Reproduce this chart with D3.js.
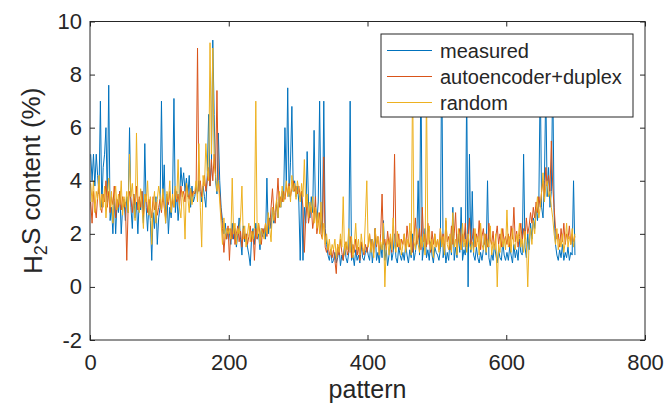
<!DOCTYPE html>
<html>
<head>
<meta charset="utf-8">
<script src="https://cdn.jsdelivr.net/npm/d3@7"></script>
<style>
  html, body { margin: 0; padding: 0; background: #fff; }
  svg { display: block; font-family: "Liberation Sans", Arial, sans-serif; }
</style>
</head>
<body>
<svg id="chart" width="668" height="405"></svg>
<script>
// ---- data (one value every 2 patterns) ----
const patterns = d3.range(1, 700, 2);
const measured = [
  5.0,4.0,5.0,3.8,5.0,4.2,3.5,7.0,3.0,4.5,5.0,6.0,3.2,7.6,2.5,3.0,2.0,3.4,2.0,3.2,2.8,3.6,2.0,3.0,3.3,
  2.5,3.4,2.8,6.0,3.0,2.2,3.5,2.6,3.2,2.0,3.3,2.9,3.6,2.4,5.4,3.0,2.1,3.2,2.5,1.0,2.8,2.2,3.4,1.6,2.6,
  3.0,7.0,3.2,4.6,2.4,3.5,2.0,3.0,2.6,3.4,7.1,2.8,3.6,2.5,3.2,4.5,3.8,4.3,3.6,4.1,3.4,4.2,3.0,3.8,3.2,
  3.4,3.8,3.5,4.0,3.6,3.2,3.8,3.4,3.0,4.2,6.5,3.8,4.5,9.3,6.5,4.0,3.5,5.8,4.0,3.0,2.5,2.0,2.4,1.8,2.2,
  2.0,1.6,2.4,1.8,2.2,1.5,2.0,2.6,1.8,1.2,2.3,1.7,2.0,1.5,1.2,0.8,1.9,2.2,1.6,2.4,1.8,2.0,1.4,2.2,1.9,
  2.2,1.8,4.1,2.0,2.6,2.2,3.0,2.4,2.8,3.2,2.6,3.4,3.0,3.6,3.2,6.0,3.8,7.5,3.4,4.7,6.8,3.6,4.0,3.4,3.8,
  3.2,1.0,3.6,1.0,3.0,2.4,5.1,3.2,2.6,3.4,2.8,5.9,3.0,2.4,3.2,7.0,2.6,2.0,7.0,2.2,1.6,1.2,1.0,1.4,0.9,
  1.0,1.3,0.9,1.1,1.5,0.8,1.2,1.0,1.6,1.1,0.9,1.3,7.0,1.0,1.2,0.8,1.4,1.0,1.2,0.9,1.6,1.1,1.0,1.3,1.5,
  1.2,1.0,1.8,0.9,1.4,2.2,1.0,1.3,0.9,1.6,1.1,2.5,1.0,1.4,0.8,1.2,1.7,1.0,1.3,2.0,1.1,0.9,1.5,1.2,1.0,
  1.3,1.0,1.6,1.2,0.9,1.4,1.1,2.0,1.0,1.3,1.8,4.0,1.2,8.5,1.0,1.5,2.2,1.1,1.4,1.0,1.7,1.2,0.9,1.5,1.3,
  1.2,1.0,1.4,9.0,1.1,1.6,0.9,1.3,1.0,1.8,1.2,3.0,1.0,1.5,1.1,2.0,1.3,3.0,1.0,1.4,1.2,7.5,0.0,5.0,1.3,
  3.6,1.2,1.0,1.5,1.1,0.9,1.3,1.0,1.4,2.0,1.2,4.0,1.1,0.8,1.3,1.0,1.6,1.2,0.9,1.4,1.1,1.0,1.7,1.2,1.0,
  1.3,1.0,1.5,1.2,0.9,1.6,1.1,1.4,1.0,1.8,1.3,1.2,5.0,1.5,1.1,2.0,1.4,2.4,1.8,2.6,2.2,3.0,2.5,3.2,8.0,
  3.0,2.6,4.0,7.5,3.4,4.5,3.0,3.6,8.0,2.8,1.6,1.2,1.0,1.4,1.1,1.6,1.0,1.3,1.1,1.5,1.0,1.3,1.2,4.0,1.2
];
const autoencoderDuplex = [
  3.2,2.4,3.6,3.0,2.6,3.4,3.8,3.0,2.8,3.5,3.2,4.0,3.0,3.6,2.8,3.4,3.1,3.8,2.6,3.3,3.0,3.6,2.9,3.4,3.0,
  3.2,1.0,3.0,3.6,3.3,2.8,3.5,3.1,3.8,2.9,3.4,3.0,3.6,2.7,3.2,3.5,2.8,3.3,3.0,2.6,3.4,2.9,3.2,2.7,3.0,
  3.3,2.8,3.5,3.0,2.6,3.4,3.1,3.6,2.9,3.3,3.0,3.7,3.2,3.5,3.0,3.8,3.4,3.6,3.2,3.9,3.5,3.3,3.7,3.4,3.6,
  3.5,3.8,9.0,3.6,4.0,3.4,3.8,4.2,3.6,4.0,4.5,3.8,4.8,4.0,5.0,4.2,7.4,4.0,3.5,2.8,2.2,1.3,2.0,1.8,2.3,
  1.0,2.2,1.8,2.4,1.6,2.0,2.3,1.7,2.1,1.5,2.2,1.8,2.0,1.6,1.9,2.3,1.7,2.1,1.0,2.2,1.8,2.4,2.0,1.6,2.2,
  2.0,2.4,1.9,2.6,2.2,3.0,3.7,2.8,2.4,3.2,4.1,3.0,3.4,3.2,3.6,3.3,3.8,3.5,3.9,3.4,3.7,4.0,3.6,3.8,3.5,
  3.8,3.4,3.6,3.0,1.3,2.6,3.2,2.4,2.8,3.0,2.2,2.6,3.4,2.0,2.4,2.8,2.0,1.8,4.9,1.5,1.3,1.6,1.2,1.4,1.1,
  1.4,1.0,0.5,1.6,1.2,1.8,1.3,1.0,1.5,1.7,1.2,1.4,1.9,1.1,1.6,1.3,1.8,1.2,1.5,1.0,1.7,1.4,1.2,1.6,1.3,
  1.6,2.0,1.4,1.8,1.3,2.2,1.5,1.9,1.2,2.0,3.5,1.6,1.8,1.4,2.1,1.6,1.9,1.3,2.2,5.0,1.7,1.5,2.0,1.4,1.8,
  1.6,2.0,1.4,2.3,1.7,1.5,2.1,1.3,1.9,2.6,1.6,1.8,2.2,1.4,3.0,1.7,2.0,1.5,2.4,1.8,1.3,2.1,1.6,2.0,1.5,
  1.8,1.4,2.2,1.6,2.0,1.3,2.5,1.7,1.9,1.4,2.3,1.6,2.0,2.8,1.5,1.8,2.2,1.4,2.0,1.7,2.4,1.5,1.9,2.6,1.6,
  1.8,2.2,1.5,2.0,1.7,2.5,1.4,1.9,2.2,1.6,2.0,1.5,2.4,1.8,1.6,2.1,1.4,1.9,2.3,1.6,2.0,1.5,2.2,1.7,1.9,
  1.6,2.0,1.5,2.3,1.8,3.0,1.7,2.1,1.5,1.9,2.4,1.7,2.2,1.8,2.6,2.0,2.3,2.8,2.4,3.0,2.6,3.2,2.8,3.4,3.0,
  3.6,4.0,3.4,4.5,3.8,4.2,3.6,5.5,3.8,3.0,2.2,1.8,2.0,1.5,2.2,1.7,2.4,1.6,2.0,1.8,2.3,1.6,2.0,1.7,1.9
];
const random = [
  3.9,3.2,4.0,2.8,3.6,3.3,4.2,2.9,3.5,3.0,3.8,2.6,3.4,4.1,3.0,3.6,2.4,3.3,3.8,2.9,3.5,3.1,4.0,2.7,3.4,
  3.0,3.6,2.8,5.0,3.4,3.9,3.1,2.5,5.8,3.3,2.8,3.7,3.0,2.2,3.5,3.2,4.0,2.7,3.4,1.6,3.1,3.6,2.4,3.3,3.8,
  3.4,2.9,3.7,3.1,2.4,3.6,3.2,4.0,2.8,3.5,3.0,3.8,3.3,4.8,3.0,2.6,3.6,3.2,1.8,3.9,3.4,2.8,3.7,3.1,3.5,
  3.6,4.0,3.2,5.4,3.0,1.5,4.2,3.8,5.4,4.4,4.0,9.2,5.0,9.0,4.6,4.2,3.6,4.0,3.2,2.4,1.6,2.6,1.8,2.2,2.0,
  2.2,1.8,4.1,2.0,2.4,1.6,2.2,2.0,2.6,3.8,1.8,2.3,1.5,2.0,2.4,1.7,2.1,1.8,2.2,7.0,1.9,2.4,1.6,2.2,2.0,
  1.8,2.4,2.0,2.8,2.2,1.7,3.0,2.5,2.9,3.3,2.6,3.6,3.0,3.8,3.2,3.5,4.0,3.4,3.8,3.2,4.2,3.6,3.9,3.3,4.0,
  3.6,3.2,3.9,3.4,4.8,3.0,3.5,2.6,3.2,2.8,3.4,2.4,3.0,2.2,2.8,2.0,3.2,1.8,2.4,1.6,2.0,1.4,1.8,1.2,1.6,
  1.4,1.8,1.1,1.6,1.3,2.0,1.5,3.4,1.2,1.7,1.4,2.2,1.3,1.9,1.1,1.6,2.4,1.4,1.8,1.2,2.0,1.5,1.3,2.6,4.0,
  1.5,2.0,1.3,1.8,1.1,2.2,1.6,1.9,1.2,1.7,1.4,2.4,0.0,1.5,1.8,1.2,2.0,1.4,2.6,1.6,1.3,2.1,1.5,1.8,1.2,
  1.6,2.0,1.3,1.8,1.5,2.4,1.2,8.0,1.7,1.4,2.2,1.6,1.3,1.9,1.5,2.0,1.2,7.5,1.6,2.3,1.4,1.8,1.1,2.0,1.5,
  1.8,1.3,2.2,1.5,1.9,1.2,2.6,1.6,1.4,2.0,1.3,2.8,1.5,1.8,1.2,2.2,1.6,1.4,2.4,1.5,1.8,1.3,2.0,1.6,1.4,
  1.7,1.3,2.2,1.5,1.9,1.2,2.4,1.6,1.4,2.0,1.3,1.8,1.5,2.3,1.2,1.7,1.4,2.0,0.0,1.6,1.3,2.2,1.5,1.8,1.4,
  2.9,1.5,1.9,1.3,2.2,1.6,1.4,2.0,1.7,2.4,1.5,1.8,1.3,2.1,1.6,0.0,1.8,2.2,1.6,2.5,2.0,2.8,3.4,2.6,3.0,
  3.6,4.3,3.2,3.8,4.0,3.4,3.6,3.0,2.6,2.0,1.6,2.2,1.4,1.8,1.5,2.0,1.3,1.7,2.4,1.5,1.9,1.6,2.2,1.5,2.0
];
const seriesNames = ["measured", "autoencoder+duplex", "random"];
const seriesColors = ["#0072BD", "#D95319", "#EDB120"];
const xTicks = [0, 200, 400, 600, 800];
const yTicks = [-2, 0, 2, 4, 6, 8, 10];

// ---- chart ----
const svg = d3.select("#chart");
const mLeft = 90, mRight = 645, mTop = 21.5, mBottom = 340;
const x = d3.scaleLinear().domain([0, 800]).range([mLeft, mRight]);
const y = d3.scaleLinear().domain([-2, 10]).range([mBottom, mTop]);
const axisColor = "#262626";
const fmt = d => String(d);

svg.append("rect").attr("x", 0).attr("y", 0).attr("width", 668).attr("height", 405).attr("fill", "#fff");

svg.append("clipPath").attr("id", "clip")
  .append("rect").attr("x", mLeft).attr("y", mTop).attr("width", mRight - mLeft).attr("height", mBottom - mTop);

const allSeries = [measured, autoencoderDuplex, random];
const line = d3.line().x((d, i) => x(patterns[i])).y(d => y(d));
const plot = svg.append("g").attr("clip-path", "url(#clip)");
allSeries.forEach((vals, k) => {
  plot.append("path")
    .datum(vals)
    .attr("fill", "none")
    .attr("stroke", seriesColors[k])
    .attr("stroke-width", 1)
    .attr("stroke-linejoin", "round")
    .attr("d", line);
});

function styleAxis(g) {
  g.select(".domain").remove();
  g.selectAll(".tick line").attr("stroke", axisColor);
  g.selectAll(".tick text").attr("fill", axisColor).style("font-size", "22px")
    .style("font-family", "'Liberation Sans', Arial, sans-serif");
}

svg.append("g").attr("transform", `translate(0,${mBottom})`)
  .call(d3.axisBottom(x).tickValues(xTicks).tickSize(-5).tickPadding(14).tickFormat(fmt))
  .call(styleAxis);
svg.append("g").attr("transform", `translate(0,${mTop})`)
  .call(d3.axisTop(x).tickValues(xTicks).tickSize(-5).tickFormat(""))
  .call(styleAxis);
svg.append("g").attr("transform", `translate(${mLeft},0)`)
  .call(d3.axisLeft(y).tickValues(yTicks).tickSize(-5).tickPadding(8).tickFormat(fmt))
  .call(styleAxis);
svg.append("g").attr("transform", `translate(${mRight},0)`)
  .call(d3.axisRight(y).tickValues(yTicks).tickSize(-5).tickFormat(""))
  .call(styleAxis);

svg.append("rect")
  .attr("x", mLeft).attr("y", mTop).attr("width", mRight - mLeft).attr("height", mBottom - mTop)
  .attr("fill", "none").attr("stroke", axisColor).attr("stroke-width", 1);

// axis labels
svg.append("text")
  .attr("x", (mLeft + mRight) / 2).attr("y", 398)
  .attr("text-anchor", "middle").attr("fill", axisColor)
  .style("font-size", "25px")
  .text("pattern");

const yl = svg.append("text")
  .attr("transform", `translate(42,${(mTop + mBottom) / 2}) rotate(-90)`)
  .attr("text-anchor", "middle").attr("fill", axisColor)
  .style("font-size", "26px");
yl.append("tspan").text("H");
yl.append("tspan").attr("dy", "0.3em").style("font-size", "18px").text("2");
yl.append("tspan").attr("dy", "-0.3em").text("S content (%)");

// legend
const lg = svg.append("g");
lg.append("rect")
  .attr("x", 381).attr("y", 34).attr("width", 252).attr("height", 83)
  .attr("fill", "#fff").attr("stroke", axisColor).attr("stroke-width", 1);
const legendY = [50.5, 76.5, 102.5];
seriesNames.forEach((name, k) => {
  lg.append("line")
    .attr("x1", 387).attr("x2", 432).attr("y1", legendY[k]).attr("y2", legendY[k])
    .attr("stroke", seriesColors[k]).attr("stroke-width", 1);
  lg.append("text")
    .attr("x", 440).attr("y", legendY[k]).attr("dy", "0.35em")
    .attr("fill", axisColor).style("font-size", "20px")
    .text(name);
});
</script>
</body>
</html>
